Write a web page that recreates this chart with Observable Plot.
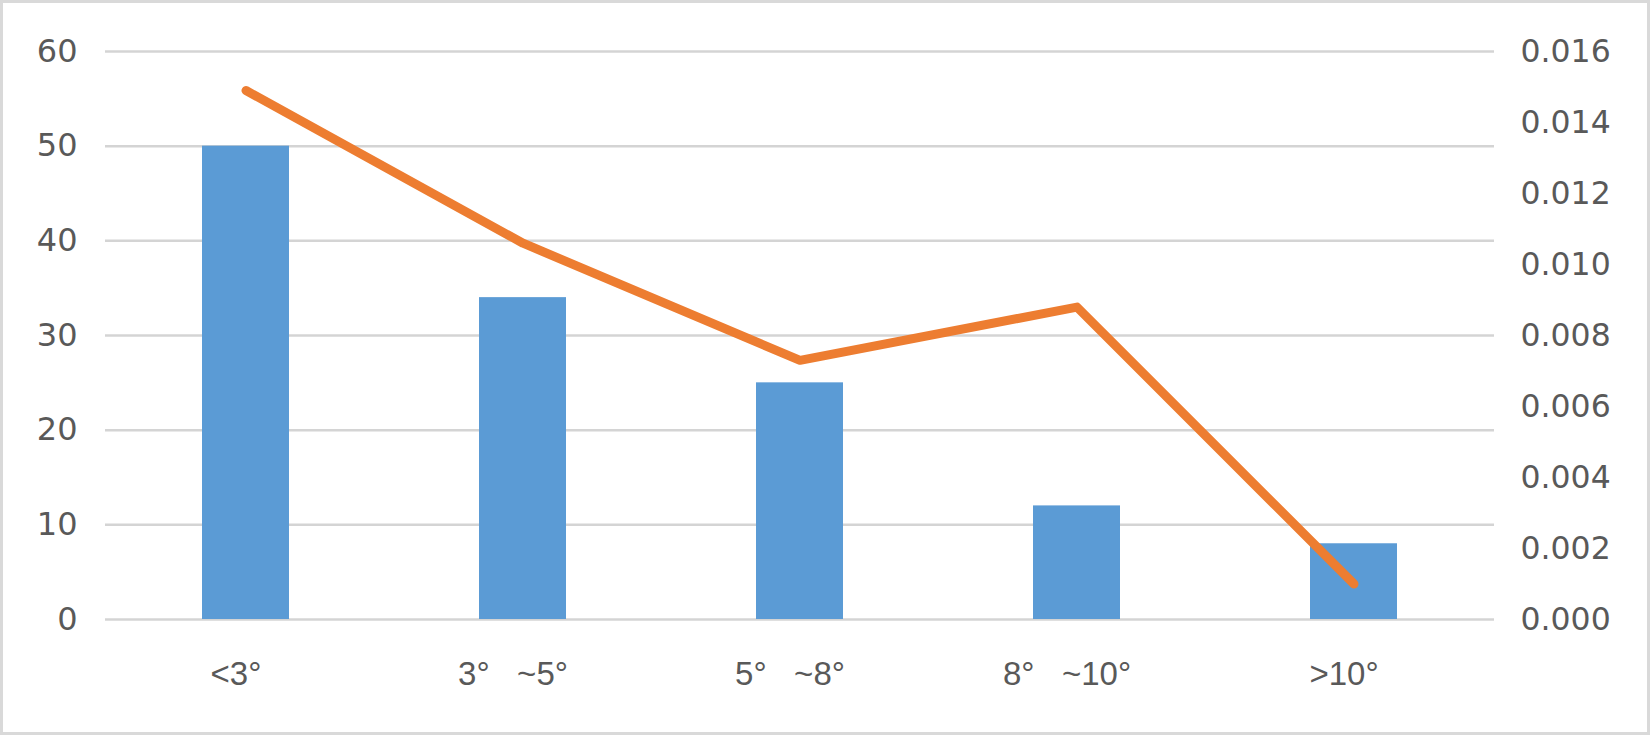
<!DOCTYPE html>
<html>
<head>
<meta charset="utf-8">
<script src="https://cdn.jsdelivr.net/npm/d3@7"></script>
<script src="https://cdn.jsdelivr.net/npm/@observablehq/plot@0.6"></script>
<style>
  html, body { margin: 0; padding: 0; background: #fff; }
  #chart svg { display: block; outline: 3px solid #d9d9d9; outline-offset: -3px; }
</style>
</head>
<body>
<div id="chart"></div>
<script>
// Data
const categories = ["<3°", "3°\u00a0\u00a0\u00a0~5°", "5°\u00a0\u00a0\u00a0~8°", "8°\u00a0\u00a0\u00a0~10°", ">10°"];
const barValues = [50, 34, 25, 12, 8];
const lineValues = [0.0149, 0.0106, 0.0073, 0.0088, 0.0010];
const leftTicks = [0, 10, 20, 30, 40, 50, 60];
const rightTicks = [0, 0.002, 0.004, 0.006, 0.008, 0.010, 0.012, 0.014, 0.016];

const leftMax = 60, rightMax = 0.016;
const k = leftMax / rightMax;

const bars = categories.map((c, i) => ({cat: c, v: barValues[i]}));
const line = categories.map((c, i) => ({cat: c, v: lineValues[i] * k}));

const chart = Plot.plot({
  width: 1650,
  height: 735,
  marginLeft: 105,
  marginRight: 156,
  marginTop: 51,
  marginBottom: 116,
  style: {background: "#fff", color: "#595959"},
  x: {domain: categories, paddingInner: 0.685, paddingOuter: 0.3425, label: null},
  y: {domain: [0, leftMax], label: null},
  marks: [
    Plot.gridY(leftTicks, {stroke: "#d4d4d4", strokeOpacity: 1, strokeWidth: 2.5}),
    Plot.barY(bars, {x: "cat", y: "v", fill: "#5b9bd5"}),
    Plot.line(line, {x: "cat", y: "v", stroke: "#ed7d31", strokeWidth: 9, strokeLinecap: "round", strokeLinejoin: "round"}),
    Plot.axisY({anchor: "left", ticks: leftTicks, tickSize: 0, tickPadding: 28, label: null,
      fontSize: 32, fontFamily: "DejaVu Sans", fill: "#595959"}),
    Plot.axisY({anchor: "right", ticks: rightTicks.map(t => t * k), tickSize: 0, tickPadding: 26, label: null,
      tickFormat: d => (d / k).toFixed(3), fontSize: 31.5, fontFamily: "DejaVu Sans", fill: "#595959"}),
    Plot.axisX({anchor: "bottom", tickSize: 0, tickPadding: 42, label: null, dx: -10,
      fontSize: 33, fontFamily: "Liberation Sans, sans-serif", fill: "#595959"})
  ]
});
document.getElementById("chart").appendChild(chart);
</script>
</body>
</html>
